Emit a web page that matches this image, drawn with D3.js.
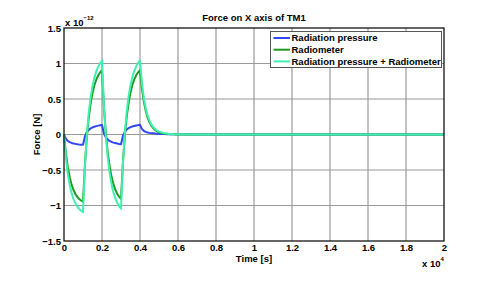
<!DOCTYPE html>
<html><head><meta charset="utf-8">
<script src="https://cdn.jsdelivr.net/npm/d3@7"></script>
<style>body{margin:0;background:#fff}svg{display:block;font-family:"Liberation Sans",Arial,sans-serif;font-weight:bold}</style>
</head><body>
<script>
// time in seconds
const time = [0,100,200,300,400,500,600,700,800,900,1000,
1100,1200,1300,1400,1500,1600,1700,1800,1900,2000,
2100,2200,2300,2400,2500,2600,2700,2800,2900,3000,
3100,3200,3300,3400,3500,3600,3700,3800,3900,4000,
4100,4200,4300,4400,4500,4600,4700,4800,4900,5000,
5100,5200,5300,5400,5500,5600,5700,5800,5900,6000,
7000,8000,9000,10000,11000,12000,13000,14000,15000,16000,17000,18000,19000,20000];
// forces in units of 1e-12 N
const radiationPressure = [0,-0.060,-0.091,-0.108,-0.119,-0.127,-0.132,-0.137,-0.141,-0.143,-0.146,
-0.028,0.032,0.065,0.085,0.099,0.110,0.118,0.125,0.130,0.135,
0.018,-0.040,-0.072,-0.091,-0.104,-0.114,-0.121,-0.128,-0.133,-0.137,
-0.020,0.038,0.071,0.090,0.103,0.113,0.121,0.127,0.132,0.136,
0.080,0.052,0.037,0.029,0.023,0.019,0.016,0.013,0.011,0.009,
0.008,0.007,0.006,0.005,0.004,0.003,0.003,0.002,0.002,0.002,
0,0,0,0,0,0,0,0,0,0,0,0,0,0];
const radiometer = [0,-0.266,-0.460,-0.602,-0.706,-0.782,-0.838,-0.879,-0.909,-0.930,-0.947,
-0.427,-0.047,0.232,0.435,0.584,0.693,0.773,0.831,0.874,0.905,
0.396,0.024,-0.248,-0.447,-0.593,-0.699,-0.777,-0.834,-0.876,-0.907,
-0.398,-0.026,0.247,0.447,0.592,0.699,0.777,0.834,0.876,0.907,
0.650,0.466,0.334,0.239,0.171,0.123,0.088,0.063,0.045,0.032,
0.023,0.017,0.012,0.009,0.006,0.004,0.003,0.002,0.001,0.001,
0,0,0,0,0,0,0,0,0,0,0,0,0,0];
const combined = [0,-0.326,-0.551,-0.710,-0.825,-0.909,-0.970,-1.016,-1.050,-1.073,-1.093,
-0.455,-0.015,0.297,0.520,0.683,0.803,0.891,0.956,1.004,1.040,
0.414,-0.016,-0.320,-0.538,-0.697,-0.813,-0.898,-0.962,-1.009,-1.044,
-0.418,0.012,0.318,0.537,0.695,0.812,0.898,0.961,1.008,1.043,
0.730,0.518,0.371,0.268,0.194,0.142,0.104,0.076,0.056,0.041,
0.031,0.024,0.018,0.014,0.010,0.007,0.006,0.004,0.003,0.003,
0,0,0,0,0,0,0,0,0,0,0,0,0,0];
const seriesNames = ["Radiation pressure","Radiometer","Radiation pressure + Radiometer"];
const seriesColors = ["#2f47f5","#1f9a1f","#3ff0b0"];
const xTicks = [0,2000,4000,6000,8000,10000,12000,14000,16000,18000,20000];
const xTickLabels = ["0","0.2","0.4","0.6","0.8","1","1.2","1.4","1.6","1.8","2"];
const yTicks = [-1.5,-1,-0.5,0,0.5,1,1.5];
const yTickLabels = ["\u22121.5","\u22121","\u22120.5","0","0.5","1","1.5"];

const W=491,H=284;
const m={l:64,t:28,r:444,b:241};
const svg=d3.select("body").append("svg").attr("width",W).attr("height",H);
const x=d3.scaleLinear().domain([0,20000]).range([m.l,m.r]);
const y=d3.scaleLinear().domain([-1.5,1.5]).range([m.b,m.t]);

// grid
const g=svg.append("g");
g.selectAll(".gx").data(xTicks.slice(1,-1)).join("line")
 .attr("x1",d=>x(d)).attr("x2",d=>x(d)).attr("y1",m.t).attr("y2",m.b)
 .attr("stroke","#9a9a9a").attr("stroke-width",1.2);
g.selectAll(".gy").data(yTicks.slice(1,-1)).join("line")
 .attr("y1",d=>y(d)).attr("y2",d=>y(d)).attr("x1",m.l).attr("x2",m.r)
 .attr("stroke","#9a9a9a").attr("stroke-width",1.2);

// axes
const xAxis=d3.axisBottom(x).tickValues(xTicks).tickFormat((d,i)=>xTickLabels[i]).tickSize(0).tickPadding(3.5);
const yAxis=d3.axisLeft(y).tickValues(yTicks).tickFormat((d,i)=>yTickLabels[i]).tickSize(0).tickPadding(3);
const ax=svg.append("g").attr("transform",`translate(0,${m.b})`).call(xAxis);
const ay=svg.append("g").attr("transform",`translate(${m.l},0)`).call(yAxis);
[ax,ay].forEach(a=>{a.select(".domain").remove();a.selectAll("text").attr("font-size","9.5px").attr("font-weight","bold").attr("fill","#000").attr("font-family","Liberation Sans, Arial, sans-serif");});

// lines
const series=[radiationPressure,radiometer,combined];
const line=d3.line().x((d,i)=>x(time[i])).y(d=>y(d));
series.forEach((s,k)=>{
 svg.append("path").datum(s).attr("d",line).attr("fill","none")
  .attr("stroke",seriesColors[k]).attr("stroke-width",2).attr("stroke-linejoin","round");
});

// box
svg.append("rect").attr("x",m.l).attr("y",m.t).attr("width",m.r-m.l).attr("height",m.b-m.t)
 .attr("fill","none").attr("stroke","#000").attr("stroke-width",1.2);

// title & labels
svg.append("text").attr("x",(m.l+m.r)/2).attr("y",21).attr("text-anchor","middle").attr("font-size","9.5px").text("Force on X axis of TM1");
svg.append("text").attr("x",(m.l+m.r)/2).attr("y",262).attr("text-anchor","middle").attr("font-size","9.5px").text("Time [s]");
svg.append("text").attr("transform",`translate(40,${(m.t+m.b)/2}) rotate(-90)`).attr("text-anchor","middle").attr("font-size","9.5px").text("Force [N]");
const e1=svg.append("text").attr("x",65).attr("y",25.5).attr("font-size","9.5px");
e1.append("tspan").text("x 10");
e1.append("tspan").attr("dy",-6).attr("font-size","6px").text("\u221212");
const e2=svg.append("text").attr("x",422).attr("y",267).attr("font-size","9.5px");
e2.append("tspan").text("x 10");
e2.append("tspan").attr("dy",-6).attr("font-size","6px").text("4");

// legend
const lg=svg.append("g");
lg.append("rect").attr("x",270.5).attr("y",31.5).attr("width",171).attr("height",36)
 .attr("fill","#fff").attr("stroke","#555").attr("stroke-width",1);
seriesNames.forEach((n,k)=>{
 const yy=38+k*11.7;
 lg.append("line").attr("x1",273.5).attr("x2",290).attr("y1",yy).attr("y2",yy).attr("stroke",seriesColors[k]).attr("stroke-width",2);
 lg.append("text").attr("x",291.5).attr("y",yy+3.4).attr("font-size","9.5px").text(n);
});
</script>
</body></html>
